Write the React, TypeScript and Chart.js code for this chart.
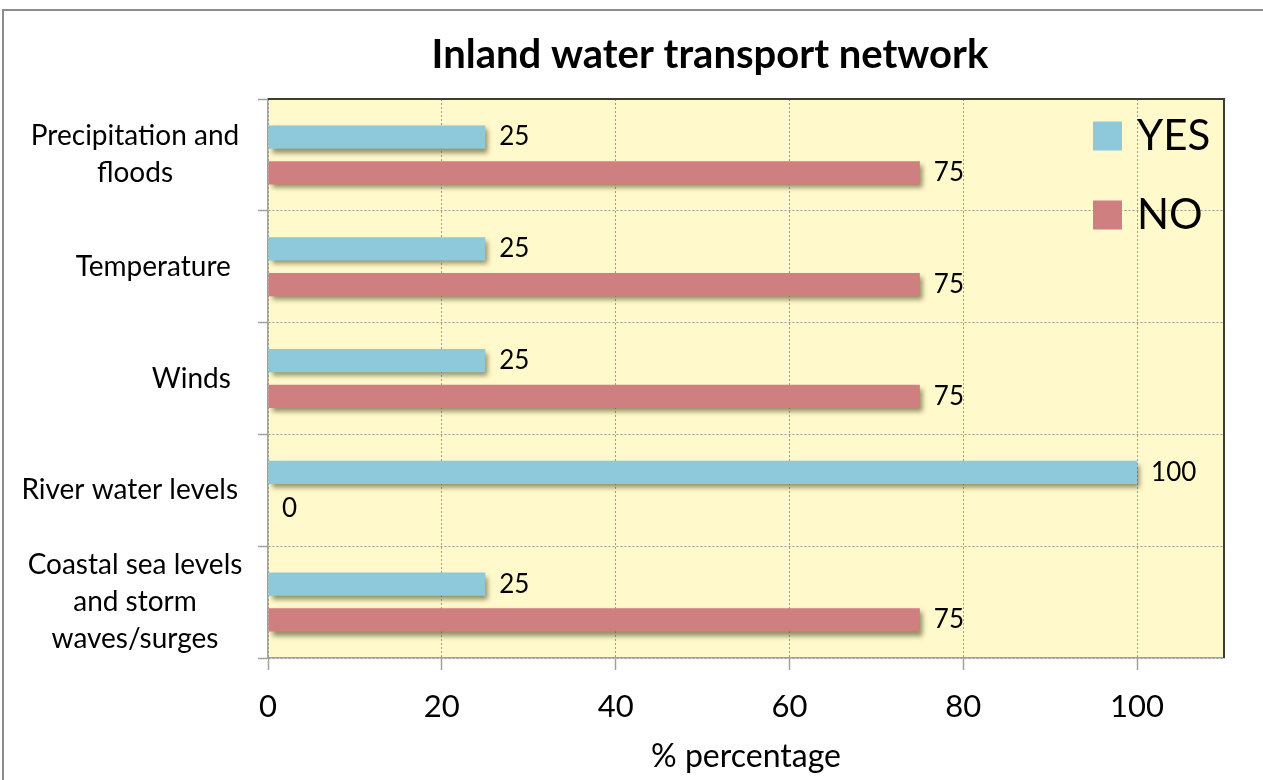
import React, { useEffect, useRef } from 'react';
import { Chart, registerables } from 'chart.js';

Chart.register(...registerables);

// ---------- data ----------
const TITLE = 'Inland water transport network';
const X_TITLE = '% percentage';
const categories: string[][] = [
  ['Precipitation and', 'floods'],
  ['Temperature '],
  ['Winds '],
  ['River water levels'],
  ['Coastal sea levels', 'and storm', 'waves/surges'],
];
const seriesNames = ['YES', 'NO'];
const yesValues = [25, 25, 25, 100, 25];
const noValues = [75, 75, 75, 0, 75];
const xMin = 0;
const xMax = 110;
const xStep = 20;
const xLastLabel = 100;

// ---------- styles ----------
const FONT = 'Lato, "Open Sans", sans-serif';
const seriesColors = ['#8EC8DB', '#CF7F7F'];
const PLOT_BG = '#FFF9CC';
const GRID = '#9a9a9a';
const AXIS = '#a0a0a0';

const decor = {
  id: 'decor',
  beforeDraw(chart: any) {
    const { ctx, chartArea: a } = chart;
    ctx.save();
    ctx.fillStyle = '#ffffff';
    ctx.fillRect(0, 0, chart.width, chart.height);
    ctx.strokeStyle = '#8c8c8c';
    ctx.lineWidth = 2;
    ctx.strokeRect(3, 10, 1800, 900);
    ctx.fillStyle = PLOT_BG;
    ctx.fillRect(a.left, a.top, a.right - a.left, a.bottom - a.top);
    ctx.restore();
  },
  beforeDatasetsDraw(chart: any) {
    const ctx = chart.ctx;
    ctx.save();
    ctx.shadowColor = 'rgba(70,70,30,0.6)';
    ctx.shadowOffsetX = 3;
    ctx.shadowOffsetY = 4;
    ctx.shadowBlur = 5;
  },
  afterDatasetsDraw(chart: any) {
    const ctx = chart.ctx;
    ctx.restore();
    ctx.save();
    ctx.fillStyle = '#000';
    ctx.font = `26px ${FONT}`;
    ctx.textAlign = 'left';
    ctx.textBaseline = 'middle';
    chart.data.datasets.forEach((ds: any, di: number) => {
      const meta = chart.getDatasetMeta(di);
      meta.data.forEach((el: any, i: number) => {
        ctx.fillText(String(ds.data[i]), el.x + 14, el.y);
      });
    });
    ctx.restore();
  },
  afterDraw(chart: any) {
    const { ctx, chartArea: a } = chart;
    const yScale = chart.scales.y;
    ctx.save();
    // title
    ctx.fillStyle = '#000';
    ctx.font = `bold 40px ${FONT}`;
    ctx.textAlign = 'center';
    ctx.textBaseline = 'alphabetic';
    ctx.fillText(TITLE, 710, 68);

    // plot area border (top & right)
    ctx.strokeStyle = '#3c3c34';
    ctx.lineWidth = 2;
    ctx.beginPath();
    ctx.moveTo(a.left, a.top);
    ctx.lineTo(a.right, a.top);
    ctx.lineTo(a.right, a.bottom);
    ctx.stroke();

    // category labels
    ctx.fillStyle = '#000';
    ctx.font = `28px ${FONT}`;
    ctx.textBaseline = 'middle';
    const lineGap = 37;
    categories.forEach((lines, i) => {
      const cy = yScale.getPixelForValue(i);
      if (lines.length > 1) {
        ctx.textAlign = 'center';
        const start = cy - ((lines.length - 1) * lineGap) / 2;
        lines.forEach((ln, k) => ctx.fillText(ln, a.left - 133, start + k * lineGap));
      } else {
        ctx.textAlign = 'right';
        ctx.fillText(lines[0], a.left - 30, cy);
      }
    });

    // legend
    ctx.font = `42px ${FONT}`;
    ctx.textAlign = 'left';
    seriesNames.forEach((name, i) => {
      const cy = a.top + 37 + i * 79;
      ctx.fillStyle = seriesColors[i];
      ctx.fillRect(a.right - 131, cy - 14.5, 29, 29);
      ctx.fillStyle = '#000';
      ctx.fillText(name, a.right - 87, cy);
    });
    ctx.restore();
  },
};

export default function App() {
  const ref = useRef<HTMLCanvasElement>(null);
  useEffect(() => {
    document.body.style.margin = '0';
    const chart = new Chart(ref.current as HTMLCanvasElement, {
      type: 'bar',
      data: {
        labels: categories.map((c) => c.join(' ')),
        datasets: [
          {
            label: seriesNames[0],
            data: yesValues,
            backgroundColor: seriesColors[0],
            borderWidth: 0,
            categoryPercentage: 0.64,
            barPercentage: 0.65,
          },
          {
            label: seriesNames[1],
            data: noValues,
            backgroundColor: seriesColors[1],
            borderWidth: 0,
            categoryPercentage: 0.64,
            barPercentage: 0.65,
          },
        ],
      },
      options: {
        indexAxis: 'y',
        responsive: false,
        animation: false,
        devicePixelRatio: 1,
        layout: { padding: { left: 0, right: 196, top: 99, bottom: 0 } },
        plugins: {
          legend: { display: false },
          tooltip: { enabled: false },
          title: { display: false },
        },
        scales: {
          y: {
            type: 'category',
            offset: true,
            grid: {
              offset: true,
              color: GRID,
              lineWidth: 1,
              tickLength: 10,
              tickColor: AXIS,
              tickWidth: 1.5,
            },
            border: { display: true, color: AXIS, width: 1.5, dash: [2, 2] },
            ticks: { display: false },
            afterFit: (s: any) => {
              s.width = 268;
            },
          },
          x: {
            type: 'linear',
            min: xMin,
            max: xMax,
            ticks: {
              stepSize: xStep,
              color: '#000',
              font: { family: FONT, size: 31 },
              padding: 18,
            },
            afterBuildTicks: (s: any) => {
              s.ticks = s.ticks.filter((t: any) => t.value <= xLastLabel);
            },
            grid: {
              color: GRID,
              lineWidth: 1,
              tickLength: 12,
              tickColor: AXIS,
              tickWidth: 1.5,
            },
            border: { display: true, color: AXIS, width: 1.5, dash: [2, 2] },
            title: {
              display: true,
              text: X_TITLE,
              color: '#000',
              font: { family: FONT, size: 32 },
              padding: { top: 0, bottom: 4 },
            },
            afterFit: (s: any) => {
              s.height = 122;
            },
          },
        },
      },
      plugins: [decor],
    } as any);
    return () => chart.destroy();
  }, []);

  return (
    <div style={{ width: 1263, height: 780, overflow: 'hidden', position: 'relative' }}>
      <canvas
        ref={ref}
        width={1420}
        height={780}
        style={{ display: 'block', width: 1420, height: 780 }}
      />
    </div>
  );
}
